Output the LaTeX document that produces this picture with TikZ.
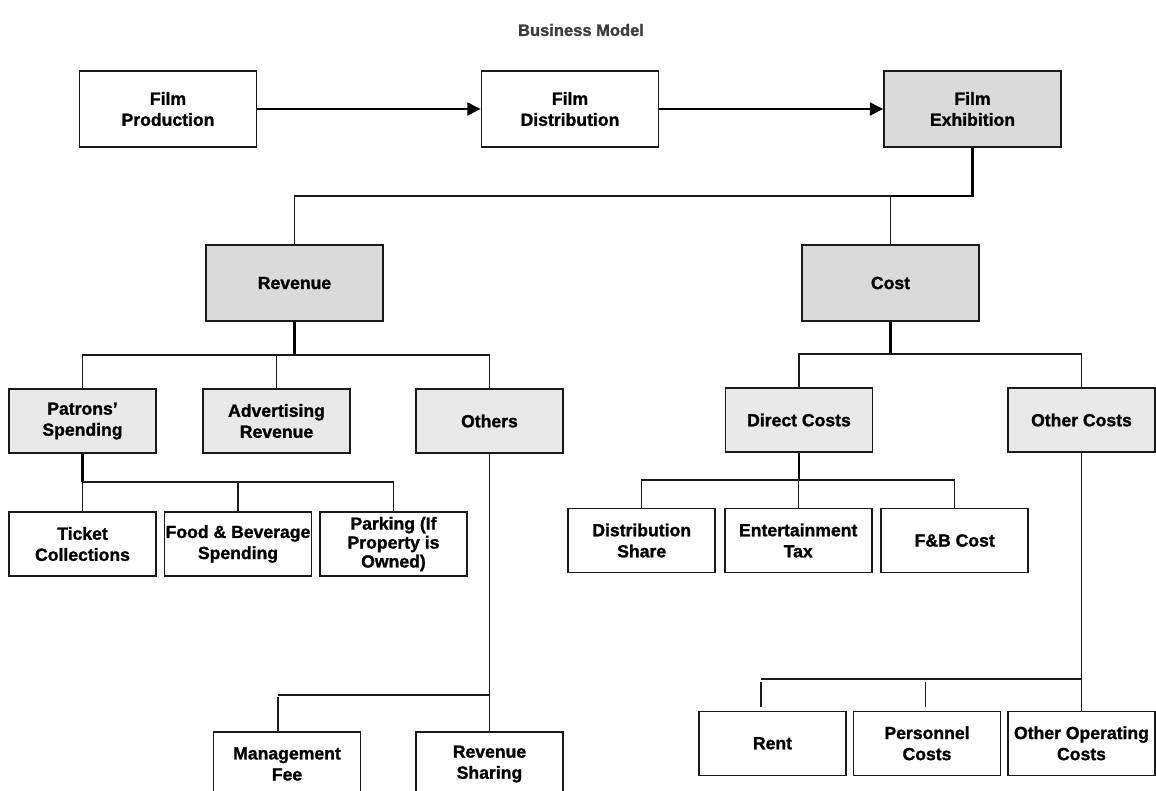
\documentclass[tikz,border=0pt]{standalone}
\usepackage{fontspec}
\setmainfont{Liberation Sans}
\newfontfamily\heavyfont{Liberation Sans Bold}[FakeBold=1.2]
\usetikzlibrary{arrows.meta}
\definecolor{gA}{HTML}{DADADA}
\definecolor{gB}{HTML}{E9E9E9}
\definecolor{ttl}{HTML}{3C3C3C}
\definecolor{edge}{HTML}{1A1A1A}
\begin{document}
\begin{tikzpicture}[x=0.75pt,y=-0.75pt,
  bx/.style={draw=edge, line width=1.2pt, inner sep=0pt, align=center,
    font=\fontsize{13.2}{15.8}\selectfont\heavyfont, text=black},
  big/.style={bx, minimum width=132.75pt, minimum height=57pt},
  sml/.style={bx, minimum width=110.25pt, minimum height=48pt},
  thinln/.style={draw=edge, line width=1pt},
  thickln/.style={draw=black, line width=1.9pt},
  flow/.style={draw=black, line width=2.1pt, -{Triangle[length=10pt,width=9.5pt]}},
]
\useasboundingbox (0,0) rectangle (1156,790);
\clip (0,0) rectangle (1156,790);
\fill[white] (0,0) rectangle (1156,790);

% title
\node[font=\fontsize{12.4}{14}\selectfont\heavyfont, text=ttl] (title) at (581,30) {Business Model};

% row 1
\node[big] (prod) at (168,109) {Film\\Production};
\node[big] (dist) at (570,109) {Film\\Distribution};
\node[big, fill=gA] (exh) at (972.5,109) {Film\\Exhibition};

% row 2
\node[big, fill=gA] (rev) at (294.5,283) {Revenue};
\node[big, fill=gA] (cost) at (890.5,283) {Cost};

% row 3
\node[sml, fill=gB] (pat) at (82.5,421) {Patrons’\\Spending};
\node[sml, fill=gB] (adv) at (276.5,421) {Advertising\\Revenue};
\node[sml, fill=gB] (oth) at (489.5,421) {Others};
\node[sml, fill=gB] (dir) at (799,420) {Direct Costs};
\node[sml, fill=gB] (otc) at (1081.5,420) {Other Costs};

% row 4 left
\node[sml] (tic) at (82.5,544) {Ticket\\Collections};
\node[sml] (fnb) at (238,544) {Food \& Beverage\\Spending};
\node[sml, font=\fontsize{13.2}{14.2}\selectfont\heavyfont] (park) at (393.5,544) {Parking (If\\Property is\\Owned)};

% row 4 right
\node[sml] (dsh) at (641.7,540.5) {Distribution\\Share};
\node[sml] (ent) at (798.2,540.5) {Entertainment\\Tax};
\node[sml] (fbc) at (954.7,540.5) {F\&B Cost};

% bottom left
\node[sml] (mf) at (287,764) {Management\\Fee};
\node[sml] (rs) at (489.5,764) {Revenue\\Sharing};

% bottom right
\node[sml] (rent) at (772.5,743.3) {Rent};
\node[sml] (pers) at (927,743.3) {Personnel\\Costs};
\node[sml] (oop) at (1081.5,743.3) {Other Operating\\Costs};

% flow arrows
\draw[flow] (prod.east) -- (dist.west);
\draw[flow] (dist.east) -- (exh.west);

% exhibition to revenue / cost
\coordinate (jT) at (890.5,196);
\draw[thickln] (exh.south) |- (jT);
\draw[thinln] (jT) -| (rev.north);
\draw[thinln] (jT) -- (cost.north);

% revenue branch
\coordinate (jRev) at (294.5,355);
\draw[thickln] (rev.south) -- (jRev);
\draw[thinln] (pat.north) -- (pat.north |- jRev) -- (oth.north |- jRev) -- (oth.north);
\draw[thinln] (adv.north) -- (adv.north |- jRev);

% cost branch
\coordinate (jCost) at (890.5,354);
\draw[thickln] (cost.south) -- (jCost);
\draw[thinln] (dir.north) -- (dir.north |- jCost) -- (otc.north |- jCost) -- (otc.north);

% patrons branch
\coordinate (jPat) at (82.5,482);
\draw[thickln] (pat.south) -- (jPat);
\draw[thinln] (jPat) -- (tic.north);
\draw[thinln] (jPat) -- (park.north |- jPat) -- (park.north);
\draw[thinln] (fnb.north) -- (fnb.north |- jPat);

% direct costs branch
\coordinate (jDir) at (799,480);
\draw[thickln] (dir.south) -- (jDir);
\draw[thinln] (dsh.north) -- (dsh.north |- jDir) -- (fbc.north |- jDir) -- (fbc.north);
\draw[thinln] (ent.north) -- (ent.north |- jDir);

% others branch
\draw[thinln] (oth.south) -- (rs.north);
\coordinate (jM1) at (278,695);
\coordinate (jM2) at (278,697);
\draw[thinln] (jM1) -- (oth.south |- jM1);
\draw[thinln] (jM2) -- (jM2 |- mf.north);

% other costs branch
\draw[thinln] (otc.south) -- (oop.north);
\coordinate (jO1) at (761,679);
\coordinate (jO2) at (761,682);
\coordinate (jO3) at (925.8,682);
\draw[thinln] (jO1) -- (otc.south |- jO1);
\draw[thinln, shorten >=3pt] (jO2) -- (jO2 |- rent.north);
\draw[thinln, shorten >=3pt] (jO3) -- (jO3 |- pers.north);
\end{tikzpicture}
\end{document}
